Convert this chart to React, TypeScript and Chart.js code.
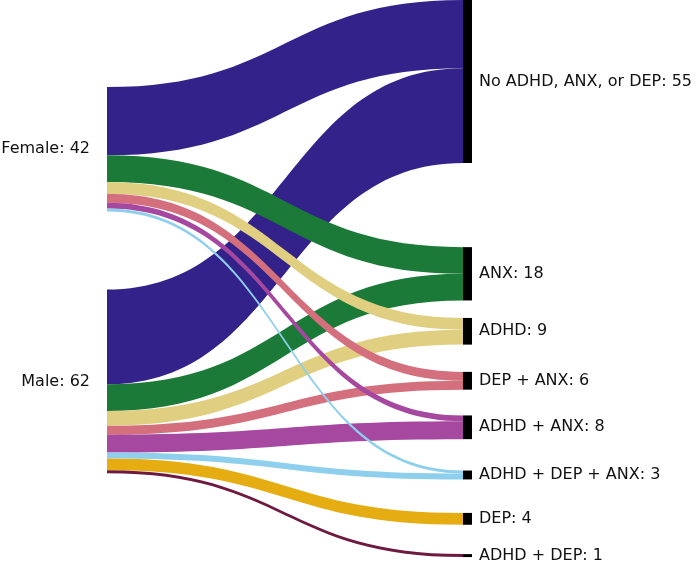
import React, { useEffect, useRef } from "react";
import { Chart, registerables } from "chart.js";

Chart.register(...registerables);

// ---- data ----
const sourceLabels = ["Female", "Male"];
const targetLabels = [
  "No ADHD, ANX, or DEP",
  "ANX",
  "ADHD",
  "DEP + ANX",
  "ADHD + ANX",
  "ADHD + DEP + ANX",
  "DEP",
  "ADHD + DEP",
];
const femaleCounts = [23, 9, 4, 3, 2, 1, 0, 0];
const maleCounts = [32, 9, 5, 3, 6, 2, 4, 1];
const linkColors = [
  "#32228a",
  "#1b7a37",
  "#e0cf80",
  "#d4707d",
  "#a6489f",
  "#8ecfee",
  "#e6ad12",
  "#6e1a40",
];
// node layout (top, in participant units along the vertical axis)
const sourceTops = [29.4, 97.7];
const targetTops = [0, 83.4, 107.3, 125.5, 140.2, 158.8, 173.1, 187.0];
const yUnits = 190;

const FONT = "16px 'DejaVu Sans', sans-serif";
const NODE_W = 9;

const sankeyPlugin = {
  id: "sankeyDraw",
  afterDraw(chart: any) {
    const { ctx } = chart;
    const xs = chart.scales.x;
    const ys = chart.scales.y;
    const counts = [femaleCounts, maleCounts];
    const sx = xs.getPixelForValue(0) + NODE_W;
    const tx = xs.getPixelForValue(1) - NODE_W;
    const xm = (sx + tx) / 2;

    type Link = { s: number; t: number; v: number; sy: number; ty: number };
    const links: Link[] = [];
    const srcOff = sourceTops.slice();
    const links2d: Link[][] = [[], []];
    for (let s = 0; s < 2; s++) {
      for (let t = 0; t < targetLabels.length; t++) {
        const v = counts[s][t];
        if (!v) continue;
        const l = { s, t, v, sy: srcOff[s], ty: 0 };
        srcOff[s] += v;
        links2d[s].push(l);
        links.push(l);
      }
    }
    const tgtOff = targetTops.slice();
    for (let t = 0; t < targetLabels.length; t++) {
      for (let s = 0; s < 2; s++) {
        const l = links.find((k) => k.s === s && k.t === t);
        if (!l) continue;
        l.ty = tgtOff[t];
        tgtOff[t] += l.v;
      }
    }

    ctx.save();
    for (const s of [1, 0]) {
      for (const l of links2d[s]) {
        const y0 = ys.getPixelForValue(l.sy);
        const y1 = ys.getPixelForValue(l.sy + l.v);
        const t0 = ys.getPixelForValue(l.ty);
        const t1 = ys.getPixelForValue(l.ty + l.v);
        ctx.beginPath();
        ctx.moveTo(sx, y0);
        ctx.bezierCurveTo(xm, y0, xm, t0, tx, t0);
        ctx.lineTo(tx, t1);
        ctx.bezierCurveTo(xm, t1, xm, y1, sx, y1);
        ctx.closePath();
        ctx.fillStyle = linkColors[l.t];
        ctx.fill();
      }
    }

    ctx.font = FONT;
    ctx.textBaseline = "middle";
    for (let t = 0; t < targetLabels.length; t++) {
      const total = femaleCounts[t] + maleCounts[t];
      const top = ys.getPixelForValue(targetTops[t]);
      const bot = ys.getPixelForValue(targetTops[t] + total);
      ctx.fillStyle = "#000";
      ctx.fillRect(tx, top, NODE_W, bot - top);
      ctx.fillStyle = "#111";
      ctx.textAlign = "left";
      ctx.fillText(`${targetLabels[t]}: ${total}`, tx + NODE_W + 7, (top + bot) / 2);
    }
    for (let s = 0; s < 2; s++) {
      const total = counts[s].reduce((a, b) => a + b, 0);
      const top = ys.getPixelForValue(sourceTops[s]);
      const bot = ys.getPixelForValue(sourceTops[s] + total);
      ctx.fillStyle = "#111";
      ctx.textAlign = "right";
      ctx.fillText(`${sourceLabels[s]}: ${total}`, sx - NODE_W - 8, (top + bot) / 2);
    }
    ctx.restore();
  },
};

export default function App() {
  const ref = useRef<HTMLCanvasElement>(null);
  useEffect(() => {
    if (!ref.current) return;
    const chart = new Chart(ref.current, {
      type: "scatter",
      data: { datasets: [] },
      options: {
        animation: false,
        responsive: false,
        layout: { padding: { left: 98, right: 227, top: 0, bottom: 0 } },
        plugins: { legend: { display: false }, tooltip: { enabled: false } },
        scales: {
          x: { type: "linear", min: 0, max: 1, display: false },
          y: { type: "linear", min: 0, max: yUnits, reverse: true, display: false },
        },
      },
      plugins: [sankeyPlugin],
    });
    return () => chart.destroy();
  }, []);
  return (
    <div style={{ position: "absolute", left: 0, top: 0, width: 699, height: 563, background: "#fff" }}>
      <canvas ref={ref} width={699} height={563} style={{ display: "block" }} />
    </div>
  );
}
